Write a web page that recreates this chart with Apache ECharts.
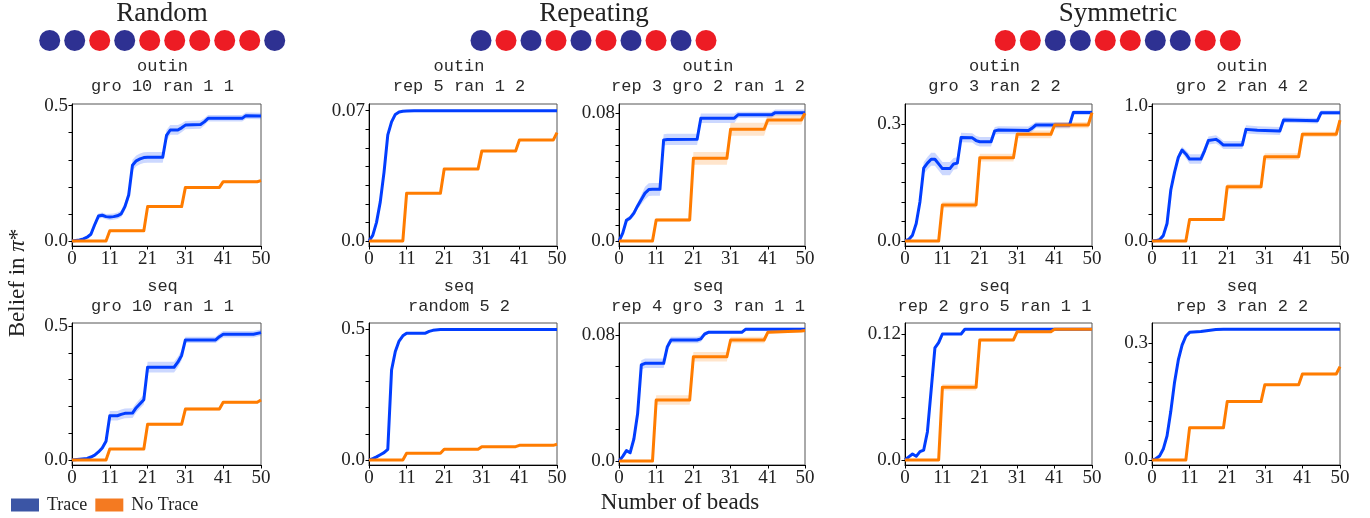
<!DOCTYPE html>
<html><head><meta charset="utf-8">
<script src="https://cdn.jsdelivr.net/npm/echarts@6/dist/echarts.min.js"></script>
<style>html,body{margin:0;padding:0;background:#fff}#c{width:1370px;height:518px}</style>
</head><body><div id="c"></div>
<script>
// ---------------- DATA ----------------
const groupTitles = ['Random', 'Repeating', 'Symmetric'];
const beadsRandom = ['B','B','R','B','R','R','R','R','R','B'];
const beadsRepeating = ['B','R','B','R','B','R','B','R','B','R'];
const beadsSymmetric = ['R','R','B','B','R','R','B','B','R','R'];

const panelTitles = [
  ['outin', 'gro 10 ran 1 1'], ['outin', 'rep 5 ran 1 2'], ['outin', 'rep 3 gro 2 ran 1 2'],
  ['outin', 'gro 3 ran 2 2'], ['outin', 'gro 2 ran 4 2'],
  ['seq', 'gro 10 ran 1 1'], ['seq', 'random 5 2'], ['seq', 'rep 4 gro 3 ran 1 1'],
  ['seq', 'rep 2 gro 5 ran 1 1'], ['seq', 'rep 3 ran 2 2']
];
const seriesNames = ['Trace', 'No Trace'];
const xLabel = 'Number of beads';
const xTickValues = [0, 10, 20, 30, 40, 50];
const xTickLabels = ['0', '11', '21', '31', '41', '50'];

const yTicks1 = [0, 0.1, 0.2, 0.3, 0.4, 0.5];
const yTicks2 = [0, 0.01, 0.02, 0.03, 0.04, 0.05, 0.06, 0.07];
const yTicks3 = [0, 0.01, 0.02, 0.03, 0.04, 0.05, 0.06, 0.07, 0.08];
const yTicks4 = [0, 0.05, 0.1, 0.15, 0.2, 0.25, 0.3];
const yTicks5 = [0, 0.2, 0.4, 0.6, 0.8, 1.0];
const yTicks6 = [0, 0.1, 0.2, 0.3, 0.4, 0.5];
const yTicks7 = [0, 0.1, 0.2, 0.3, 0.4, 0.5];
const yTicks8 = [0, 0.02, 0.04, 0.06, 0.08];
const yTicks9 = [0, 0.02, 0.04, 0.06, 0.08, 0.1, 0.12];
const yTicks10 = [0, 0.05, 0.1, 0.15, 0.2, 0.25, 0.3];
const yLabelValues = [[0, 0.5], [0, 0.07], [0, 0.08], [0, 0.3], [0, 1.0], [0, 0.5], [0, 0.5], [0, 0.08], [0, 0.12], [0, 0.3]];
const yLabelTexts = [['0.0','0.5'], ['0.0','0.07'], ['0.0','0.08'], ['0.0','0.3'], ['0.0','1.0'], ['0.0','0.5'], ['0.0','0.5'], ['0.0','0.08'], ['0.0','0.12'], ['0.0','0.3']];

// each point: [beads, belief, band half-width]
const trace1 = [[0,0,0.003],[1,0.002,0.003],[2,0.004,0.004],[3,0.008,0.004],[4,0.014,0.005],[5,0.025,0.006],[6,0.06,0.008],[7,0.092,0.01],[8,0.095,0.01],[9,0.09,0.01],[10,0.089,0.012],[11,0.09,0.012],[12,0.093,0.012],[13,0.1,0.012],[14,0.127,0.015],[15,0.17,0.018],[16,0.28,0.02],[17,0.296,0.02],[18,0.303,0.02],[19,0.308,0.02],[20,0.309,0.02],[24,0.309,0.02],[25,0.39,0.02],[26,0.41,0.018],[28,0.41,0.018],[29,0.418,0.016],[30,0.428,0.015],[34,0.43,0.015],[35,0.44,0.013],[36,0.453,0.012],[45,0.453,0.012],[46,0.463,0.012],[50,0.462,0.012]];
const noTrace1 = [[0,0,0.002],[9,0,0.002],[10,0.038,0.004],[19,0.038,0.004],[20,0.127,0.005],[29,0.127,0.005],[30,0.198,0.005],[39,0.198,0.005],[40,0.219,0.005],[49,0.219,0.005],[50,0.223,0.005]];

const trace2 = [[0,0,0.0002],[1,0.003,0.0003],[2,0.01,0.0004],[3,0.021,0.0005],[4,0.037,0.0005],[5,0.057,0.0005],[6,0.064,0.0005],[7,0.068,0.0004],[8,0.0693,0.0003],[9,0.0697,0.0003],[10,0.0698,0.0003],[12,0.07,0.0003],[50,0.07,0.0003]];
const noTrace2 = [[0,0,0.0002],[9,0,0.0002],[10,0.0256,0.0004],[19,0.0256,0.0004],[20,0.0387,0.0004],[29,0.0387,0.0004],[30,0.0483,0.0004],[39,0.0483,0.0004],[40,0.0542,0.0004],[49,0.0542,0.0004],[50,0.0582,0.0004]];

const trace3 = [[0,0,0.0005],[1,0.005,0.001],[2,0.013,0.0015],[3,0.0145,0.0015],[4,0.0175,0.002],[5,0.022,0.002],[6,0.026,0.003],[7,0.03,0.004],[8,0.0322,0.004],[9,0.0324,0.004],[11,0.0324,0.004],[12,0.0633,0.0035],[13,0.0636,0.0035],[21,0.0637,0.0035],[22,0.0769,0.003],[31,0.0769,0.003],[32,0.079,0.002],[41,0.079,0.002],[42,0.0804,0.002],[50,0.0804,0.002]];
const noTrace3 = [[0,0,0.0005],[9,0,0.0005],[10,0.0132,0.001],[19,0.0132,0.001],[20,0.0518,0.004],[29,0.0518,0.004],[30,0.07,0.004],[39,0.07,0.004],[40,0.0758,0.003],[49,0.0758,0.003],[50,0.08,0.002]];

const trace4 = [[0,0,0.002],[1,0.004,0.003],[2,0.015,0.004],[3,0.045,0.008],[4,0.101,0.012],[5,0.187,0.015],[6,0.2,0.016],[7,0.21,0.017],[8,0.21,0.017],[9,0.198,0.017],[10,0.186,0.017],[12,0.186,0.017],[13,0.198,0.015],[14,0.2,0.015],[15,0.266,0.012],[18,0.265,0.012],[19,0.258,0.012],[20,0.255,0.012],[23,0.255,0.012],[24,0.283,0.01],[25,0.285,0.01],[33,0.284,0.01],[34,0.29,0.009],[35,0.298,0.008],[44,0.298,0.008],[45,0.33,0.006],[50,0.33,0.006]];
const noTrace4 = [[0,0,0.002],[9,0,0.002],[10,0.0926,0.008],[19,0.0926,0.008],[20,0.214,0.01],[29,0.214,0.01],[30,0.274,0.01],[39,0.274,0.01],[40,0.298,0.008],[49,0.298,0.008],[50,0.33,0.006]];

const trace5 = [[0,0,0.003],[1,0.003,0.003],[2,0.01,0.005],[3,0.04,0.01],[4,0.13,0.02],[5,0.378,0.025],[6,0.51,0.025],[7,0.62,0.025],[8,0.674,0.025],[9,0.645,0.03],[10,0.607,0.035],[13,0.607,0.035],[14,0.67,0.03],[15,0.745,0.03],[17,0.753,0.03],[18,0.735,0.03],[19,0.711,0.03],[24,0.711,0.03],[25,0.827,0.03],[28,0.82,0.03],[34,0.815,0.03],[35,0.896,0.02],[44,0.891,0.02],[45,0.951,0.015],[50,0.951,0.015]];
const noTrace5 = [[0,0,0.003],[9,0,0.003],[10,0.16,0.01],[19,0.16,0.01],[20,0.402,0.02],[29,0.402,0.02],[30,0.625,0.025],[39,0.625,0.025],[40,0.79,0.02],[49,0.79,0.02],[50,0.896,0.02]];

const trace6 = [[0,0,0.003],[2,0.003,0.003],[4,0.006,0.004],[5,0.011,0.004],[6,0.018,0.004],[7,0.03,0.005],[8,0.045,0.006],[9,0.07,0.008],[10,0.165,0.018],[12,0.165,0.018],[13,0.17,0.018],[14,0.174,0.018],[16,0.175,0.018],[17,0.195,0.018],[18,0.21,0.018],[19,0.225,0.018],[20,0.346,0.02],[27,0.346,0.02],[28,0.365,0.02],[29,0.39,0.018],[30,0.448,0.012],[38,0.448,0.012],[39,0.46,0.012],[40,0.469,0.012],[48,0.469,0.012],[50,0.475,0.012]];
const noTrace6 = [[0,0,0.002],[9,0,0.002],[10,0.041,0.004],[19,0.041,0.004],[20,0.133,0.006],[29,0.133,0.006],[30,0.19,0.006],[39,0.19,0.006],[40,0.215,0.005],[49,0.215,0.005],[50,0.224,0.005]];

const trace7 = [[0,0,0.002],[1,0.005,0.002],[2,0.012,0.002],[3,0.02,0.002],[4,0.028,0.002],[5,0.041,0.003],[6,0.344,0.004],[7,0.415,0.004],[8,0.455,0.003],[9,0.475,0.003],[10,0.485,0.003],[15,0.485,0.003],[16,0.492,0.003],[17,0.496,0.003],[19,0.499,0.002],[50,0.499,0.002]];
const noTrace7 = [[0,0,0.001],[9,0,0.001],[10,0.0255,0.002],[19,0.0255,0.002],[20,0.041,0.002],[29,0.041,0.002],[30,0.051,0.002],[39,0.051,0.002],[40,0.056,0.002],[49,0.056,0.002],[50,0.06,0.002]];

const trace8 = [[0,0,0.0005],[1,0.003,0.0008],[2,0.0066,0.001],[3,0.0053,0.001],[4,0.014,0.0012],[5,0.03,0.0015],[6,0.061,0.003],[7,0.062,0.003],[12,0.062,0.003],[13,0.0726,0.0025],[14,0.0768,0.002],[21,0.0768,0.002],[22,0.0775,0.002],[23,0.0805,0.0015],[24,0.0817,0.001],[33,0.0817,0.001],[34,0.0836,0.001],[50,0.0836,0.001]];
const noTrace8 = [[0,0,0.0005],[9,0,0.0005],[10,0.0387,0.003],[19,0.0387,0.003],[20,0.0662,0.003],[29,0.0662,0.003],[30,0.0768,0.002],[39,0.0768,0.002],[40,0.0817,0.001],[49,0.0825,0.001],[50,0.0828,0.001]];

const trace9 = [[0,0,0.0003],[1,0.003,0.0005],[2,0.0057,0.0005],[3,0.0035,0.0005],[4,0.008,0.0006],[5,0.0095,0.0008],[6,0.027,0.001],[7,0.067,0.0015],[8,0.107,0.0015],[9,0.112,0.001],[10,0.1203,0.001],[15,0.1203,0.001],[16,0.1248,0.0008],[50,0.1248,0.0008]];
const noTrace9 = [[0,0,0.0003],[9,0,0.0003],[10,0.0694,0.003],[19,0.0694,0.003],[20,0.1146,0.0015],[29,0.1146,0.0015],[30,0.1225,0.001],[39,0.1225,0.001],[40,0.1248,0.0008],[50,0.1248,0.0008]];

const trace10 = [[0,0,0.001],[1,0.003,0.001],[2,0.01,0.002],[3,0.028,0.002],[4,0.062,0.003],[5,0.125,0.003],[6,0.2,0.003],[7,0.257,0.003],[8,0.295,0.003],[9,0.318,0.002],[10,0.328,0.002],[13,0.33,0.002],[15,0.333,0.002],[17,0.335,0.002],[19,0.336,0.002],[50,0.336,0.002]];
const noTrace10 = [[0,0,0.002],[9,0,0.002],[10,0.083,0.003],[19,0.083,0.003],[20,0.15,0.003],[29,0.15,0.003],[30,0.193,0.003],[39,0.193,0.003],[40,0.221,0.003],[49,0.221,0.003],[50,0.24,0.003]];

// ---------------- LAYOUT / STYLE ----------------
const traces = [trace1, trace2, trace3, trace4, trace5, trace6, trace7, trace8, trace9, trace10];
const noTraces = [noTrace1, noTrace2, noTrace3, noTrace4, noTrace5, noTrace6, noTrace7, noTrace8, noTrace9, noTrace10];
const yTicks = [yTicks1, yTicks2, yTicks3, yTicks4, yTicks5, yTicks6, yTicks7, yTicks8, yTicks9, yTicks10];
const yLims = [[-0.0185,0.506],[-0.0027,0.0736],[-0.0031,0.0858],[-0.0129,0.352],[-0.037,1.015],
               [-0.0187,0.511],[-0.0191,0.524],[-0.0025,0.0876],[-0.0048,0.1308],[-0.0129,0.352]];
const colLeft = [72, 369, 619, 905, 1152];
const colRight = [261, 557, 805, 1092, 1340];
const rowTop = [104, 323];
const rowBottom = [246, 465];

const BLUE = '#023eff', ORANGE = '#ff7c00';
const BLUE_BAND = 'rgba(2,62,255,0.2)', ORANGE_BAND = 'rgba(255,124,0,0.2)';
const SERIF = '"Liberation Serif", "DejaVu Serif", serif';
const MONO = '"Liberation Mono", "DejaVu Sans Mono", monospace';

const grid = [], xAxis = [], yAxis = [], series = [], graphic = [];

function bandSeries(pts, color, idx) {
  return {
    type: 'custom', name: '_band', coordinateSystem: 'cartesian2d',
    xAxisIndex: idx, yAxisIndex: idx, data: pts, encode: { x: 0, y: 1 }, silent: true, z: 1,
    renderItem: function (params, api) {
      if (params.dataIndex !== 0) return null;
      const up = pts.map(p => api.coord([p[0], p[1] + p[2]]));
      const lo = pts.slice().reverse().map(p => api.coord([p[0], p[1] - p[2]]));
      return { type: 'polygon', shape: { points: up.concat(lo) }, style: { fill: color } };
    }
  };
}

for (let i = 0; i < 10; i++) {
  const r = Math.floor(i / 5), c = i % 5;
  grid.push({ left: colLeft[c], top: rowTop[r], width: colRight[c] - colLeft[c], height: rowBottom[r] - rowTop[r],
    show: true, borderColor: '#555', borderWidth: 1, backgroundColor: 'transparent' });
  xAxis.push({ type: 'value', gridIndex: i, min: 0, max: 50,
    axisLine: { show: true, onZero: false, lineStyle: { color: '#000', width: 1 } },
    axisTick: { show: true, customValues: xTickValues, length: 3.5, lineStyle: { color: '#000' } },
    axisLabel: { customValues: xTickValues, margin: 4, color: '#222', fontFamily: SERIF, fontSize: 19,
      formatter: v => { const k = xTickValues.findIndex(t => Math.abs(t - v) < 1e-6); return k >= 0 ? xTickLabels[k] : ''; } },
    splitLine: { show: false } });
  const lv = yLabelValues[i], lt = yLabelTexts[i];
  yAxis.push({ type: 'value', gridIndex: i, min: yLims[i][0], max: yLims[i][1],
    axisLine: { show: true, onZero: false, lineStyle: { color: '#000', width: 1 } },
    axisTick: { show: true, customValues: yTicks[i], length: 3.5, lineStyle: { color: '#000' } },
    axisLabel: { customValues: lv, margin: 4, color: '#222', fontFamily: SERIF, fontSize: 19,
      formatter: v => { const k = lv.findIndex(t => Math.abs(t - v) < 1e-9); return k >= 0 ? lt[k] : ''; } },
    splitLine: { show: false } });
  series.push(bandSeries(traces[i], BLUE_BAND, i));
  series.push(bandSeries(noTraces[i], ORANGE_BAND, i));
  series.push({ type: 'line', name: seriesNames[0], xAxisIndex: i, yAxisIndex: i, z: 3,
    data: traces[i].map(p => [p[0], p[1]]), showSymbol: false, symbol: 'none',
    lineStyle: { color: BLUE, width: 3, join: 'round' }, itemStyle: { color: BLUE } });
  series.push({ type: 'line', name: seriesNames[1], xAxisIndex: i, yAxisIndex: i, z: 4,
    data: noTraces[i].map(p => [p[0], p[1]]), showSymbol: false, symbol: 'none',
    lineStyle: { color: ORANGE, width: 3, join: 'round' }, itemStyle: { color: ORANGE } });
  const cx = (colLeft[c] + colRight[c]) / 2 - 4;
  const ty = r === 0 ? 66 : 286;
  panelTitles[i].forEach((t, k) => graphic.push({ type: 'text', x: cx, y: ty + 20 * k, silent: true,
    style: { text: t, font: '17px ' + MONO, fill: '#2a2a2a', align: 'center', verticalAlign: 'middle' } }));
}

// bead rows
const beadRows = [beadsRandom, beadsRepeating, beadsSymmetric];
const beadLeft = [37.2, 468.5, 992.8];
const titleCenter = [162, 594, 1118];
beadRows.forEach((row, j) => {
  const gi = 10 + j;
  grid.push({ left: beadLeft[j], top: 30, width: 250, height: 21, show: false });
  xAxis.push({ type: 'category', gridIndex: gi, data: row.map((_, k) => k), show: false, boundaryGap: true });
  yAxis.push({ type: 'value', gridIndex: gi, min: -1, max: 1, show: false });
  series.push({ type: 'scatter', name: '_beads', xAxisIndex: gi, yAxisIndex: gi, symbol: 'circle', symbolSize: 21, silent: true,
    data: row.map((b, k) => ({ value: [k, 0], itemStyle: { color: b === 'B' ? '#2e3192' : '#ed1c24', opacity: 1 } })) });
  graphic.push({ type: 'text', x: titleCenter[j], y: 14, silent: true,
    style: { text: groupTitles[j], font: '27px ' + SERIF, fill: '#222', align: 'center', verticalAlign: 'middle' } });
});

// axis labels
graphic.push({ type: 'text', x: 680, y: 503, silent: true,
  style: { text: xLabel, font: '23px ' + SERIF, fill: '#222', align: 'center', verticalAlign: 'middle' } });
graphic.push({ type: 'text', x: 18, y: 283, rotation: Math.PI / 2, silent: true,
  style: { text: '{a|Belief in }{b|π}{a|*}', align: 'center', verticalAlign: 'middle', fill: '#222',
    rich: { a: { font: '23px ' + SERIF, fill: '#222' }, b: { font: 'italic 23px ' + SERIF, fill: '#222' } } } });

const chart = echarts.init(document.getElementById('c'), null, { renderer: 'canvas' });
chart.setOption({
  animation: false,
  backgroundColor: '#fff',
  legend: { left: 11, top: 496, padding: 0, icon: 'rect', itemWidth: 28, itemHeight: 13, itemGap: 8,
    data: [{ name: seriesNames[0], itemStyle: { color: '#3b55a5' } }, { name: seriesNames[1], itemStyle: { color: '#f47a21' } }],
    textStyle: { fontFamily: SERIF, fontSize: 18, color: '#222', padding: [0, 0, 0, 3] }, selectedMode: false },
  grid, xAxis, yAxis, series, graphic
});
</script>
</body></html>
